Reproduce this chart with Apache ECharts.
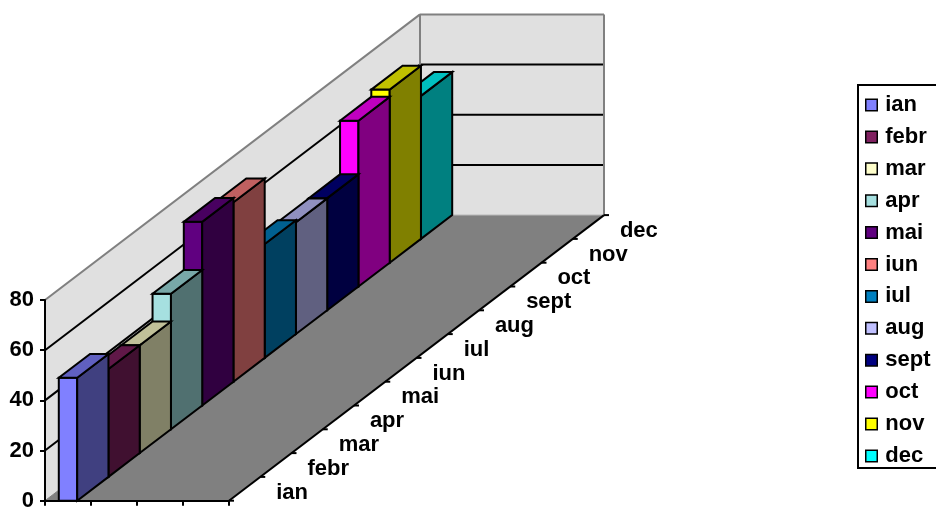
<!DOCTYPE html>
<html>
<head>
<meta charset="utf-8">
<script src="https://cdn.jsdelivr.net/npm/echarts@6/dist/echarts.min.js"></script>
<style>html,body{margin:0;padding:0;background:#fff;overflow:hidden}#c{width:936px;height:508px}</style>
</head>
<body>
<div id="c"></div>
<script>
const months = ['ian','febr','mar','apr','mai','iun','iul','aug','sept','oct','nov','dec'];
const values = [49, 43, 43, 54, 73.2, 71.5, 45.4, 44.6, 44.7, 66.1, 69, 57];
const frontColors = ['#8080ff','#802060','#ffffcc','#a6e0e0','#600080','#ff8080','#0080c0','#c0c0ff','#000080','#ff00ff','#ffff00','#00ffff'];
const sideColors = ['#404080','#401030','#808066','#507070','#300040','#804040','#004060','#606080','#000040','#800080','#808000','#008080'];
const topColors = ['#6060c0','#601848','#c0c099','#78a8a8','#480060','#c06060','#006090','#9090c0','#000060','#c000c0','#c0c000','#00c0c0'];
const yTicks = [0, 20, 40, 60, 80];
const xBands = ['', '', '', ''];

const DX = 31.25, DY = -23.8;
const FONT = 'bold 22px "Liberation Sans", Arial, sans-serif';
const depth = (p, z) => [p[0] + DX * z, p[1] + DY * z];
const N = months.length;
const line = (a, b, color, w) => ({type:'line', shape:{x1:a[0],y1:a[1],x2:b[0],y2:b[1]}, style:{stroke:color,lineWidth:w}, silent:true});
const poly = (pts, fill, stroke, w) => ({type:'polygon', shape:{points:pts}, style:{fill:fill, stroke:stroke||null, lineWidth:w||0, lineJoin:'miter'}, silent:true});

function renderRoom(params, api) {
  const w = api.size([1, 0])[0];
  const left = api.coord([0, 0])[0] - w / 2;
  const right = api.coord([xBands.length - 1, 0])[0] + w / 2;
  const y0 = api.coord([0, 0])[1];
  const yMax = api.coord([0, yTicks[yTicks.length - 1]])[1];
  const A = [left, y0], B = [left, yMax];
  const kids = [];
  const Ab = depth(A, N), Bb = depth(B, N);
  const Cb = [right + DX * N, Bb[1]], Db = [right + DX * N, Ab[1]];
  kids.push(poly([A, B, Bb, Ab], '#e0e0e0'));
  kids.push(poly([Ab, Bb, Cb, Db], '#e0e0e0'));
  kids.push(poly([A, [right, y0], Db, Ab], '#808080'));
  yTicks.forEach(t => {
    const y = api.coord([0, t])[1];
    if (t === 0 || t === yTicks[yTicks.length - 1]) return;
    const p = [left, y], pb = depth(p, N);
    kids.push(line(p, pb, '#000', 2));
    kids.push(line(pb, [right + DX * N - 1, pb[1]], '#000', 2));
  });
  kids.push(line(B, Bb, '#808080', 2));
  kids.push(line(Bb, Cb, '#808080', 2));
  kids.push(line(Cb, Db, '#808080', 2));
  kids.push(line(Bb, Ab, '#808080', 2));
  kids.push(line(A, Ab, '#808080', 1));
  kids.push(line(Ab, Db, '#b0b0b0', 1));
  kids.push(line([right, y0], Db, '#000', 2));
  return {type:'group', children:kids};
}

function renderBar(i) {
  return function (params, api) {
    const band = api.size([1, 0])[0];
    const bw = band * 0.4;
    const c = api.coord([api.value(0), 0]);
    const t = api.coord([api.value(0), api.value(1)]);
    const fl = depth([c[0] - bw / 2, c[1]], i), fr = depth([c[0] + bw / 2, c[1]], i);
    const tl = depth([c[0] - bw / 2, t[1]], i), tr = depth([c[0] + bw / 2, t[1]], i);
    const bl = depth(tl, 1), br = depth(tr, 1), brb = depth(fr, 1);
    return {type:'group', children:[
      poly([tl, fl, fr, tr], frontColors[i], '#000', 2),
      poly([tr, fr, brb, br], sideColors[i], '#000', 2),
      poly([tl, tr, br, bl], topColors[i], '#000', 2)
    ]};
  };
}

function renderDepthAxis(params, api) {
  const w = api.size([1, 0])[0];
  const right = api.coord([xBands.length - 1, 0])[0] + w / 2;
  const y0 = api.coord([0, 0])[1];
  const kids = [];
  for (let z = 0; z <= N; z++) {
    const p = depth([right, y0], z);
    kids.push(line(p, [p[0] + 5, p[1]], '#000', 2));
  }
  months.forEach((m, i) => {
    const p = depth([right, y0], i + 0.5);
    kids.push({type:'text', silent:true, style:{text:m, x:p[0] + 31.5, y:p[1] + 3.7, align:'left', verticalAlign:'middle', font:FONT, fill:'#000'}});
  });
  return {type:'group', children:kids};
}

const series = [
  {type:'custom', name:'__room', renderItem:renderRoom, data:[[0, 0]], silent:true, z:1, encode:{x:0,y:1}},
];
for (let i = N - 1; i >= 0; i--) {
  series.push({
    type:'custom', name:months[i], renderItem:renderBar(i), data:[[0, values[i]]],
    itemStyle:{color:frontColors[i]}, encode:{x:0,y:1}, z:2, silent:true
  });
}
series.push({type:'custom', name:'__axis', renderItem:renderDepthAxis, data:[[0, 0]], silent:true, z:3, encode:{x:0,y:1}});

const chart = echarts.init(document.getElementById('c'), null, {renderer:'canvas'});
chart.setOption({
  animation:false,
  backgroundColor:'#fff',
  grid:{left:45, top:300, width:184, height:200.7, containLabel:false, outerBoundsMode:'none'},
  xAxis:{type:'category', data:xBands, boundaryGap:true, z:5,
    axisLine:{show:true, onZero:false, lineStyle:{color:'#000', width:2}},
    axisTick:{show:true, alignWithLabel:false, length:5, lineStyle:{color:'#000', width:2}},
    axisLabel:{show:false}, splitLine:{show:false}},
  yAxis:{type:'value', min:0, max:80, interval:20, z:5,
    axisLine:{show:true, lineStyle:{color:'#000', width:2}},
    axisTick:{show:true, length:5, lineStyle:{color:'#000', width:2}},
    axisLabel:{show:true, margin:11, color:'#000', fontFamily:'"Liberation Sans"', fontWeight:'bold', fontSize:22, padding:[3,0,0,0], showMinLabel:true, showMaxLabel:true, hideOverlap:false},
    splitLine:{show:false}},
  legend:{show:true, orient:'vertical', left:858, top:85, data:months.map(m => ({name:m, icon:'rect'})),
    itemWidth:11.5, itemHeight:11.5, itemGap:9.9, padding:[9,30,1,7],
    borderColor:'#000', borderWidth:2, backgroundColor:'#fff', selectedMode:false,
    itemStyle:{borderColor:'#000', borderWidth:1.5},
    textStyle:{color:'#000', fontFamily:'"Liberation Sans"', fontWeight:'bold', fontSize:22, lineHeight:22, padding:[0,0,0,3]}},
  tooltip:{show:false},
  series:series
});
</script>
</body>
</html>
